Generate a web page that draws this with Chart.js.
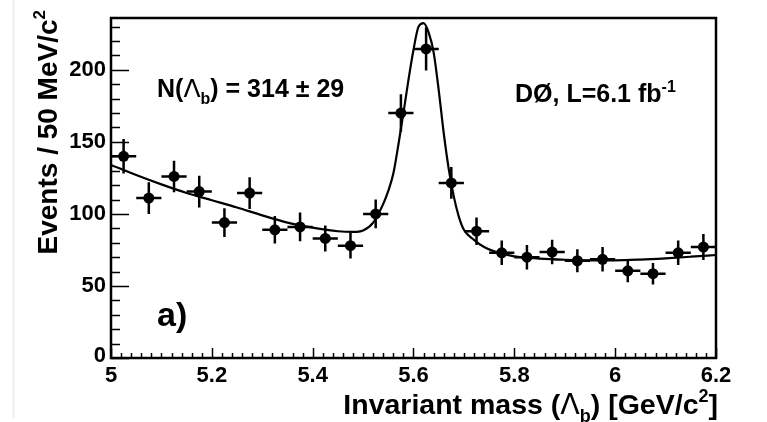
<!DOCTYPE html>
<html>
<head>
<meta charset="utf-8">
<script src="https://cdn.jsdelivr.net/npm/chart.js@4.4.0/dist/chart.umd.min.js"></script>
<style>
  html, body { margin: 0; padding: 0; background: #fff; }
  #plot { display: block; }
</style>
</head>
<body>
<canvas id="plot" width="767" height="422"></canvas>
<script>
// Measured bins (50 MeV wide)
const binCenters = [5.025, 5.075, 5.125, 5.175, 5.225, 5.275, 5.325, 5.375, 5.425, 5.475, 5.525, 5.575,
                    5.625, 5.675, 5.725, 5.775, 5.825, 5.875, 5.925, 5.975, 6.025, 6.075, 6.125, 6.175];
const events = [140, 111, 126, 115.5, 94, 114.5, 89, 91, 83, 78, 100, 170,
                214.5, 121.5, 88, 73, 70, 73.5, 67.5, 68.5, 60.5, 58.5, 73, 77];
const eventErrors = [12, 11, 11, 11, 10, 11, 9.5, 10, 9, 9, 10, 13,
                     15, 11, 9.5, 8.5, 8.5, 8.5, 8, 8.5, 8, 7.5, 8.5, 9];
const binHalfWidth = 0.025;

// Fit curve
const fitMass = [5.00, 5.05, 5.10, 5.15, 5.20, 5.25, 5.30, 5.35, 5.40, 5.45, 5.48, 5.50, 5.52, 5.54, 5.55,
                 5.56, 5.57, 5.58, 5.59, 5.60, 5.61, 5.62, 5.63, 5.64, 5.65, 5.66, 5.67, 5.68, 5.69, 5.70,
                 5.72, 5.74, 5.76, 5.80, 5.85, 5.90, 5.95, 6.00, 6.05, 6.10, 6.15, 6.20];
const fitValues = [134, 127, 120.5, 114.5, 109.5, 104.5, 99, 94, 90.5, 88, 87.5, 88.5, 94, 107, 116,
                   128, 148, 170, 193, 214, 230, 232.5, 226, 212, 186, 156, 131, 112, 98, 89,
                   82, 77, 74, 70.5, 69, 68.2, 67.8, 67.8, 68.3, 69.2, 70.3, 71.5];

const xTicks = [5, 5.2, 5.4, 5.6, 5.8, 6, 6.2];
const xTickLabels = ['5', '5.2', '5.4', '5.6', '5.8', '6', '6.2'];
const yTicks = [0, 50, 100, 150, 200];
const yTickLabels = ['0', '50', '100', '150', '200'];

const FAM = '"Liberation Sans", Arial, Helvetica, sans-serif';

// draw text made of pieces: [text, mode] with mode '', 'sub', 'sup', 'greek'
function richText(ctx, parts, x, y, size, align) {
  const fontFor = (mode) => {
    if (mode === 'sub' || mode === 'sup') return 'bold ' + Math.round(size * 0.62) + 'px ' + FAM;
    if (mode === 'greek') return size + 'px "DejaVu Sans", ' + FAM;
    return 'bold ' + size + 'px ' + FAM;
  };
  let total = 0;
  const widths = parts.map(p => {
    ctx.font = fontFor(p[1]);
    const w = ctx.measureText(p[0]).width;
    total += w;
    return w;
  });
  let cx = align === 'right' ? x - total : align === 'center' ? x - total / 2 : x;
  ctx.textAlign = 'left';
  ctx.textBaseline = 'alphabetic';
  parts.forEach((p, i) => {
    ctx.font = fontFor(p[1]);
    let dy = 0;
    if (p[1] === 'sub') dy = size * 0.28;
    if (p[1] === 'sup') dy = -size * 0.42;
    ctx.fillText(p[0], cx, y + dy);
    cx += widths[i];
  });
}

const errorBars = {
  id: 'errorBars',
  afterDatasetsDraw(chart) {
    const { ctx, scales: { x, y } } = chart;
    ctx.save();
    ctx.strokeStyle = '#000';
    ctx.lineWidth = 2.5;
    ctx.beginPath();
    binCenters.forEach((m, i) => {
      const px = x.getPixelForValue(m);
      const py = y.getPixelForValue(events[i]);
      ctx.moveTo(x.getPixelForValue(m - binHalfWidth), py);
      ctx.lineTo(x.getPixelForValue(m + binHalfWidth), py);
      ctx.moveTo(px, y.getPixelForValue(events[i] - eventErrors[i]));
      ctx.lineTo(px, y.getPixelForValue(events[i] + eventErrors[i]));
    });
    ctx.stroke();
    ctx.restore();
  }
};

const rootFrame = {
  id: 'rootFrame',
  afterDraw(chart) {
    const { ctx, chartArea: a, scales: { x, y } } = chart;
    ctx.save();
    ctx.strokeStyle = '#000';
    ctx.fillStyle = '#000';

    // faint page edge seen on the left of the scan
    ctx.strokeStyle = '#ececec';
    ctx.lineWidth = 1.5;
    ctx.beginPath();
    ctx.moveTo(13.5, 0);
    ctx.lineTo(13.5, 418);
    ctx.stroke();
    ctx.strokeStyle = '#000';

    // ticks pointing inward
    ctx.lineWidth = 1.5;
    ctx.beginPath();
    for (let v = 0; v <= 236; v += 10) {
      const py = Math.round(y.getPixelForValue(v)) + 0.5;
      const len = v % 50 === 0 ? 18 : 9;
      ctx.moveTo(a.left, py);
      ctx.lineTo(a.left + len, py);
    }
    for (let i = 0; i <= 60; i++) {
      const m = 5 + i * 0.02;
      const px = Math.round(x.getPixelForValue(m)) + 0.5;
      const len = i % 10 === 0 ? 10 : 5;
      ctx.moveTo(px, a.bottom);
      ctx.lineTo(px, a.bottom - len);
    }
    ctx.stroke();

    // frame
    ctx.lineWidth = 2.5;
    ctx.strokeRect(a.left, a.top, a.right - a.left, a.bottom - a.top);

    // tick labels
    ctx.font = 'bold 22px ' + FAM;
    ctx.textAlign = 'right';
    ctx.textBaseline = 'middle';
    yTicks.forEach((v, i) => {
      const py = y.getPixelForValue(v) - (v === 0 ? 2 : 0);
      ctx.fillText(yTickLabels[i], a.left - 5, py);
    });
    ctx.textAlign = 'center';
    ctx.textBaseline = 'alphabetic';
    xTicks.forEach((v, i) => {
      ctx.fillText(xTickLabels[i], x.getPixelForValue(v), 382);
    });

    // axis titles
    richText(ctx, [['Invariant mass (', ''], ['\u039B', 'greek'], ['b', 'sub'], [') [GeV/c', ''], ['2', 'sup'], [']', '']],
             718, 414, 28.5, 'right');
    ctx.save();
    ctx.translate(57, 10);
    ctx.rotate(-Math.PI / 2);
    richText(ctx, [['Events / 50 MeV/c', ''], ['2', 'sup']], 0, 0, 28, 'right');
    ctx.restore();

    // annotations
    richText(ctx, [['N(', ''], ['\u039B', 'greek'], ['b', 'sub'], [') = 314 \u00B1 29', '']], 157, 97, 25, 'left');
    richText(ctx, [['D\u00D8, L=6.1 fb', ''], ['-1', 'sup']], 515, 102, 25, 'left');
    richText(ctx, [['a)', '']], 157, 326, 34, 'left');

    ctx.restore();
  }
};

const fitPoints = fitMass.map((m, i) => ({ x: m, y: fitValues[i] }));
const dataPoints = binCenters.map((m, i) => ({ x: m, y: events[i] }));

new Chart(document.getElementById('plot'), {
  type: 'scatter',
  data: {
    datasets: [
      {
        label: 'fit',
        data: fitPoints,
        showLine: true,
        borderColor: '#000',
        borderWidth: 2.2,
        pointRadius: 0,
        cubicInterpolationMode: 'monotone',
        fill: false,
      },
      {
        label: 'data',
        data: dataPoints,
        pointRadius: 5.5,
        pointBackgroundColor: '#000',
        pointBorderWidth: 0,
      }
    ]
  },
  options: {
    responsive: false,
    animation: false,
    layout: { padding: { left: 111, right: 51, top: 18, bottom: 64 } },
    plugins: {
      legend: { display: false },
      tooltip: { enabled: false },
    },
    scales: {
      x: { type: 'linear', min: 5, max: 6.2, display: false },
      y: { type: 'linear', min: 0, max: 236, display: false },
    }
  },
  plugins: [errorBars, rootFrame]
});
</script>
</body>
</html>
